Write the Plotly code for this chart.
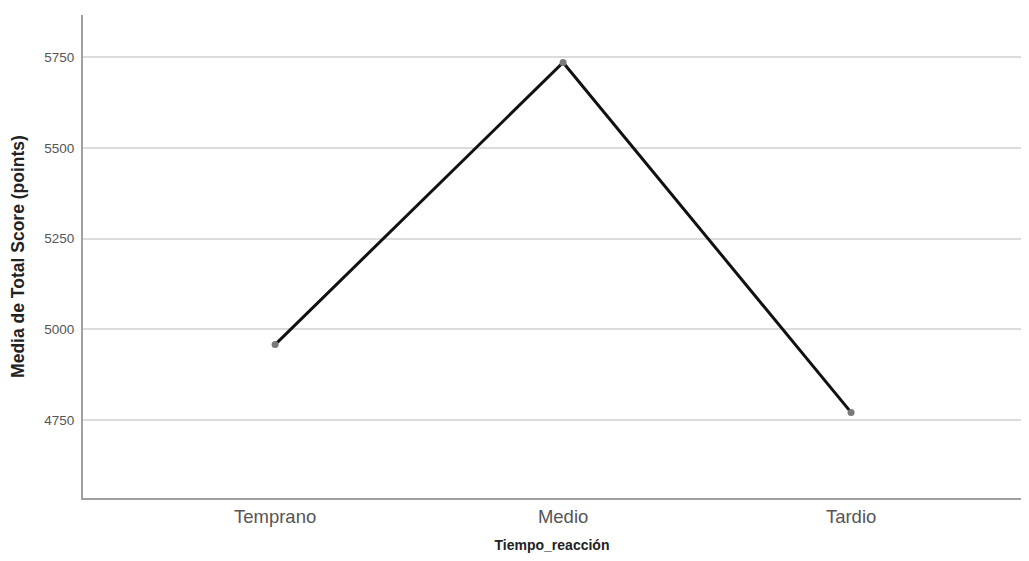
import plotly.graph_objects as go

categories = ["Temprano", "Medio", "Tardio"]
means = [4958, 5736, 4771]
y_ticks = [4750, 5000, 5250, 5500, 5750]

fig = go.Figure()
fig.add_trace(go.Scatter(
    x=categories, y=means, mode="lines+markers",
    line=dict(color="#111111", width=3),
    marker=dict(color="#7a7a7a", size=7),
    showlegend=False,
))

fig.update_layout(
    width=1013, height=545,
    margin=dict(l=75, r=0, t=7, b=55),
    paper_bgcolor="white", plot_bgcolor="white",
    font=dict(family="Liberation Sans, Arial, sans-serif", color="#444444"),
    xaxis=dict(
        type="category", range=[-0.667, 2.59], automargin=False,
        showgrid=False, showline=True, linecolor="#a0a0a0", linewidth=2,
        ticks="", tickfont=dict(size=18.5, color="#555555"), ticklabelstandoff=1,
        title=dict(text="<b>Tiempo_reacción</b>", font=dict(size=14, color="#222222"), standoff=24),
    ),
    yaxis=dict(
        range=[4535, 5867], tickvals=y_ticks, ticktext=[str(v) for v in y_ticks],
        showgrid=True, gridcolor="#dcdcdc", gridwidth=1.5,
        showline=True, linecolor="#a0a0a0", linewidth=2, zeroline=False,
        ticks="", tickfont=dict(size=13.5, color="#555555"), ticklabelstandoff=4,
        title=dict(text="<b>Media de Total Score (points)</b>", font=dict(size=17.5, color="#222222"), standoff=16),
    ),
)

fig.write_html("out.html")
